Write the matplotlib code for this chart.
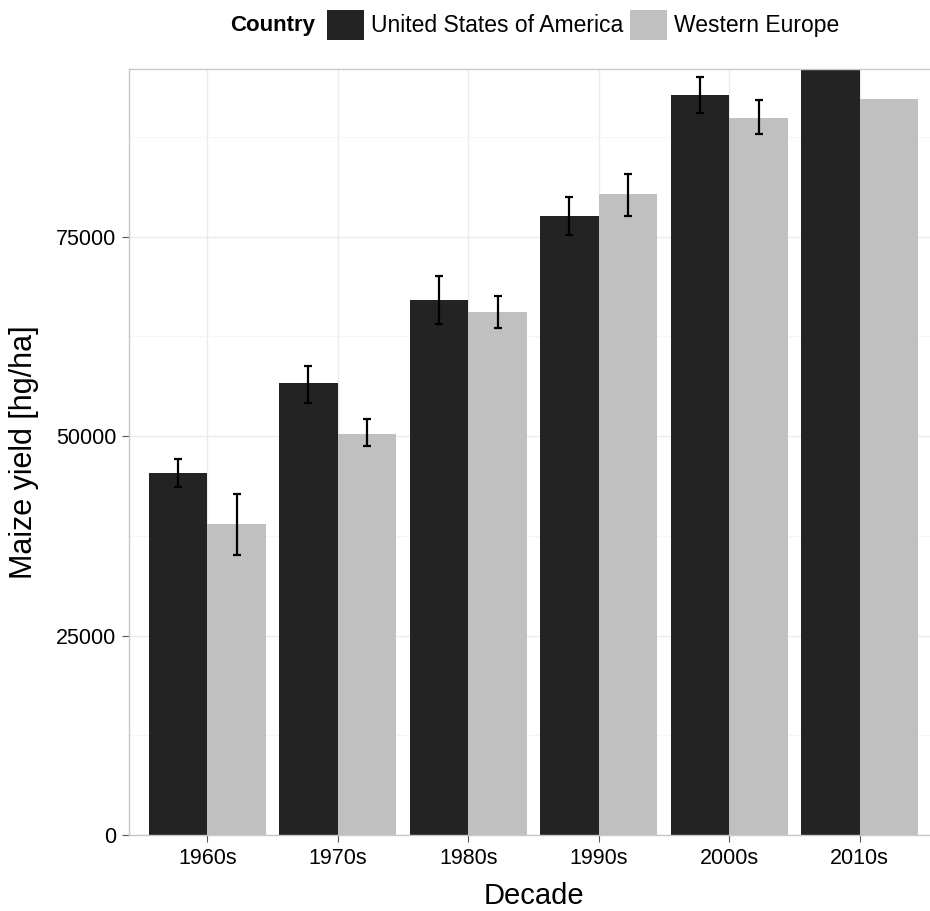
import numpy as np
import matplotlib
matplotlib.use("Agg")
import matplotlib.pyplot as plt
from matplotlib.patches import Patch

plt.rcParams['font.family'] = ['Liberation Sans', 'DejaVu Sans']

# data
decades = ['1960s', '1970s', '1980s', '1990s', '2000s', '2010s']
usa = [45400, 56600, 67000, 77600, 92800, 96300]
usa_lo = [43600, 54200, 64000, 75200, 90500, np.nan]
usa_hi = [47100, 58800, 70000, 80000, 95000, np.nan]
we = [39000, 50300, 65600, 80300, 89900, 92200]
we_lo = [35100, 48700, 63600, 77600, 87800, np.nan]
we_hi = [42700, 52100, 67500, 82900, 92100, np.nan]

col_usa = '#232323'
col_we = '#c0c0c0'

fig = plt.figure(figsize=(9.3, 9.11), dpi=100)
# panel runs a bit past the right edge of the picture (cropped in original)
ax = fig.add_axes([129/930, 1-835/911, 809/930, (835-69)/911])

x = np.arange(len(decades))
w = 0.45
ax.bar(x - w/2, usa, width=w, color=col_usa, zorder=2)
ax.bar(x + w/2, we, width=w, color=col_we, zorder=2)

def err(xs, lo, hi):
    lo = np.array(lo); hi = np.array(hi)
    ok = ~np.isnan(lo)
    mid = (lo + hi) / 2
    ax.errorbar(xs[ok], mid[ok], yerr=((hi - lo) / 2)[ok], fmt='none',
                ecolor='black', elinewidth=1.6, capsize=3, capthick=1.6, zorder=3)

err(x - w/2, usa_lo, usa_hi)
err(x + w/2, we_lo, we_hi)

ax.set_xlim(-0.6, len(decades) - 0.4)
ax.set_ylim(0, 96000)
ax.set_xticks(x)
ax.set_xticklabels(decades)
ax.set_yticks([0, 25000, 50000, 75000])
ax.set_yticks([12500, 37500, 62500, 87500], minor=True)
ax.grid(True, which='major', color='#ebebeb', lw=1.0, zorder=0)
ax.grid(True, which='minor', axis='y', color='#f6f6f6', lw=0.8, zorder=0)
ax.set_axisbelow(True)
for s in ax.spines.values():
    s.set_color('#c8c8c8')
    s.set_linewidth(1.0)
ax.tick_params(axis='both', which='major', length=5, color='#555555',
               labelsize=15.5, labelcolor='black', pad=4)
ax.tick_params(axis='y', which='minor', length=0)

ax.set_xlabel('Decade', fontsize=21, labelpad=10)
ax.set_ylabel('Maize yield [hg/ha]', fontsize=22, labelpad=12)

fig.text(230/930, 1-25/911, 'Country', fontsize=16, fontweight='bold',
         va='center', ha='left')
handles = [Patch(facecolor=col_usa), Patch(facecolor=col_we)]
fig.legend(handles, ['United States of America', 'Western Europe'], ncol=2,
           loc='center left', bbox_to_anchor=(316/930, 1-25/911), frameon=False,
           fontsize=16.5, handlelength=1.6, handleheight=1.7,
           handletextpad=0.3, columnspacing=0.3, borderpad=0)

fig.savefig('out.png', dpi=100)
